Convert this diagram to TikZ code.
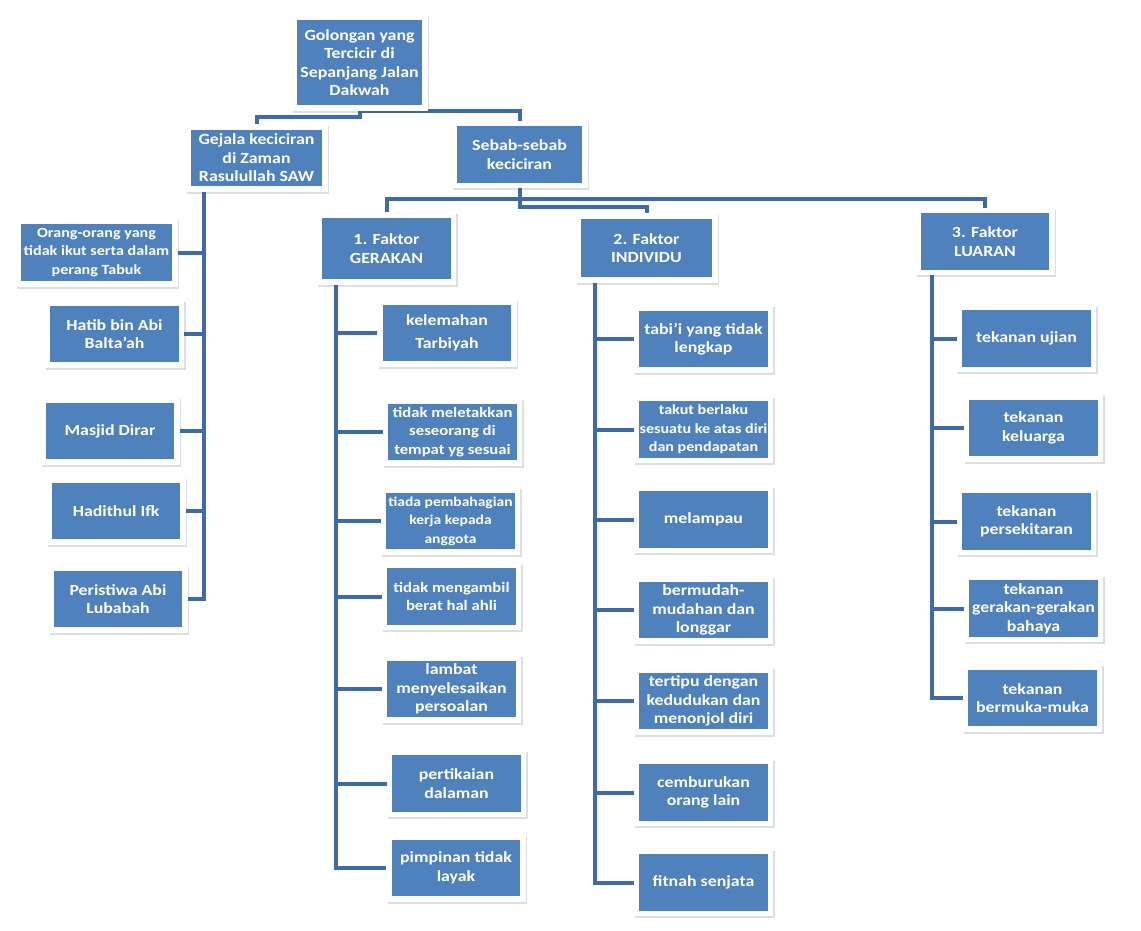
\documentclass[tikz,border=0pt]{standalone}
\usepackage{fontspec}
\setmainfont{Carlito}[FakeStretch=1.15]
\usetikzlibrary{positioning,backgrounds,shadows}

\begin{document}
\begin{tikzpicture}
    [x=1pt, y=-1pt,
    % Styles
    box/.style={rectangle, fill=boxblue, draw=white, line width=5.5pt,
      minimum width=134pt, minimum height=62pt, inner sep=1pt,
      align=center, text=white, font=\fontsize{15.5}{18.5}\selectfont\bfseries,
      drop shadow={shadow xshift=1.5pt, shadow yshift=-2pt, opacity=.18,
        fill=black!70, draw=black!70, line width=5.5pt}},
    small/.style={font=\fontsize{#1}{18.5}\selectfont\bfseries},
    link/.style={draw=linkblue, line width=4pt}]
    
    % Colors
    \definecolor{boxblue}{RGB}{79,129,189}
    \definecolor{linkblue}{RGB}{62,107,168}
    
    \useasboundingbox (0,0) rectangle (1141,930);
    
    % Root
    \node[box, minimum width=131pt, minimum height=91pt] (root) at (359.5,62.5)
      {Golongan yang\\Tercicir di\\Sepanjang Jalan\\Dakwah};
    
    % Second level
    \node[box, minimum width=137pt] (gejala) at (256.5,158) {Gejala keciciran\\di Zaman\\Rasulullah SAW};
    \node[box, minimum width=131pt] (sebab) at (519.5,154.5) {Sebab-sebab\\keciciran};
    
    % Faktor
    \node[box, minimum height=67pt] (gerakan) at (386.5,248.5) {1. Faktor\\GERAKAN};
    \node[box, minimum width=137pt, minimum height=64pt] (individu) at (646.5,248) {2. Faktor\\INDIVIDU};
    \node[box] (luaran) at (985,241.5) {3. Faktor\\LUARAN};
    
    % Gejala keciciran
    \node[box, small=14, minimum width=157pt, minimum height=63pt] (gej1) at (96.5,252.5)
      {Orang-orang yang\\tidak ikut serta dalam\\perang Tabuk};
    \foreach \i/\x/\y/\t in {2/114.5/334/{Hatib bin Abi\\Balta'ah}, 3/110/431/{Masjid Dirar},
      4/116/511/{Hadithul Ifk}, 5/118/599/{Peristiwa Abi\\Lubabah}}
    \node[box] (gej\i) at (\x,\y) {\t};
    
    % Faktor gerakan
    \foreach \i/\x/\y/\f/\t in {1/447/333/15.5/{kelemahan\\[5pt]Tarbiyah},
      2/452.5/432/14.5/{tidak meletakkan\\seseorang di\\tempat yg sesuai},
      3/450.5/521/13.5/{tiada pembahagian\\kerja kepada\\anggota},
      4/451.5/596.5/14.5/{tidak mengambil\\berat hal ahli},
      5/451.5/689/15.5/{lambat\\menyelesaikan\\persoalan},
      6/456.5/783.5/15.5/{pertikaian\\dalaman},
      7/456/868/15.5/{pimpinan tidak\\layak}}
    \node[box, small=\f] (ger\i) at (\x,\y) {\t};
    
    % Faktor individu
    \foreach \i/\y/\f/\t in {1/339/15.5/{tabi'i yang tidak\\lengkap},
      2/429.5/14/{takut berlaku\\sesuatu ke atas diri\\dan pendapatan},
      3/519.5/15.5/{melampau},
      4/610/15.5/{bermudah-\\mudahan dan\\longgar},
      5/701/15.5/{tertipu dengan\\kedudukan dan\\menonjol diri},
      6/792.5/15.5/{cemburukan\\orang lain},
      7/882.5/15.5/{fitnah senjata}}
    \node[box, small=\f] (ind\i) at (703.5,\y) {\t};
    
    % Faktor luaran
    \foreach \i/\x/\y/\t in {1/1026.5/338.5/{tekanan ujian},
      2/1033.5/428/{tekanan\\keluarga},
      3/1026.5/521.5/{tekanan\\persekitaran},
      4/1033.5/608.5/{tekanan\\gerakan-gerakan\\bahaya},
      5/1032.5/698/{tekanan\\bermuka-muka}}
    \node[box] (lua\i) at (\x,\y) {\t};
    
    % Trunks
    \coordinate (gtrunk) at (204,0);
    \coordinate (atrunk) at (336,0);
    \coordinate (btrunk) at (595,0);
    \coordinate (ctrunk) at (932,0);
    
    \begin{scope}[on background layer]
      \fill[white] (0,0) rectangle (1141,930);
      
      % Root to second level
      \draw[link] (root.south) -- ++(0,6) -| (gejala.north);
      \draw[link] (root.south) -| (sebab.north);
      % Sebab to faktor
      \draw[link] (sebab.south) -- ++(0,11) -| (gerakan.north);
      \draw[link] (sebab.south) -- ++(0,11) -| (luaran.north);
      \draw[link] (sebab.south) -- ++(0,19) -| (individu.north);
      
      % Branches
      \draw[link] (gejala.south -| gtrunk) |- (gej5.east);
      \foreach \i in {1,...,4}
      \draw[link] (gej\i.east) -- (gej\i.east -| gtrunk);
      
      \draw[link] (gerakan.south -| atrunk) |- (ger7.west);
      \foreach \i in {1,...,6}
      \draw[link] (ger\i.west) -- (ger\i.west -| atrunk);
      
      \draw[link] (individu.south -| btrunk) |- (ind7.west);
      \foreach \i in {1,...,6}
      \draw[link] (ind\i.west) -- (ind\i.west -| btrunk);
      
      \draw[link] (luaran.south -| ctrunk) |- (lua5.west);
      \foreach \i in {1,...,4}
      \draw[link] (lua\i.west) -- (lua\i.west -| ctrunk);
    \end{scope}
\end{tikzpicture}
\end{document}
